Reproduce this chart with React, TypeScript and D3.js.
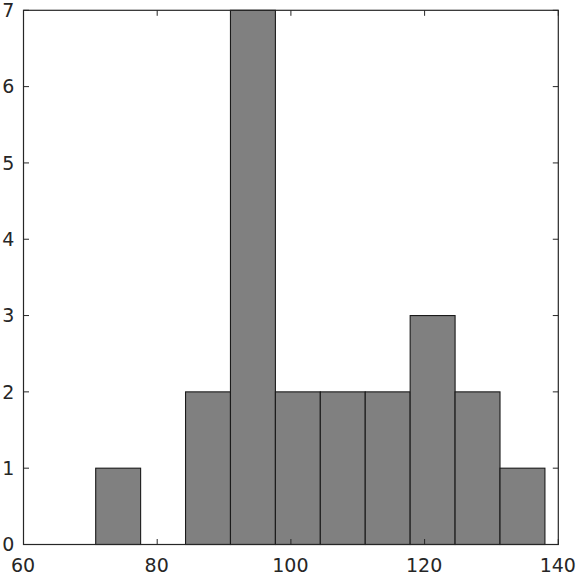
import React from "react";
import * as d3 from "d3";

const binEdges = [70.8, 77.52, 84.24, 90.96, 97.68, 104.4, 111.12, 117.84, 124.56, 131.28, 138.0];
const counts = [1, 0, 2, 7, 2, 2, 2, 3, 2, 1];
const xTicks = [60, 80, 100, 120, 140];
const yTicks = [0, 1, 2, 3, 4, 5, 6, 7];

const W = 579;
const H = 576;
const left = 23.5;
const right = 558.3;
const top = 10.3;
const bottom = 544.5;

export default function App() {
  const x = d3.scaleLinear().domain([60, 140]).range([left, right]);
  const y = d3.scaleLinear().domain([0, 7]).range([bottom, top]);
  const tl = 5.5;
  const axisColor = "#262626";
  const font = "'DejaVu Sans', sans-serif";
  return (
    <svg width={W} height={H} style={{ position: "absolute", left: 0, top: 0, background: "#fff" }}>
      {counts.map((c, i) => (
        <rect
          key={i}
          x={x(binEdges[i])}
          y={y(c)}
          width={x(binEdges[i + 1]) - x(binEdges[i])}
          height={y(0) - y(c)}
          fill="#808080"
          stroke="#1a1a1a"
          strokeWidth={1.1}
        />
      ))}
      <rect x={left} y={top} width={right - left} height={bottom - top} fill="none" stroke={axisColor} strokeWidth={1.2} />
      {xTicks.map((t) => (
        <g key={"x" + t}>
          <line x1={x(t)} x2={x(t)} y1={bottom} y2={bottom - tl} stroke={axisColor} strokeWidth={1} />
          <line x1={x(t)} x2={x(t)} y1={top} y2={top + tl} stroke={axisColor} strokeWidth={1} />
          <text x={x(t) - 0.5} y={571.5} textAnchor="middle" fontFamily={font} fontSize={19} fill={axisColor}>
            {t}
          </text>
        </g>
      ))}
      {yTicks.map((t) => (
        <g key={"y" + t}>
          <line x1={left} x2={left + tl} y1={y(t)} y2={y(t)} stroke={axisColor} strokeWidth={1} />
          <line x1={right} x2={right - tl} y1={y(t)} y2={y(t)} stroke={axisColor} strokeWidth={1} />
          <text x={14.3} y={y(t) + 6.7} textAnchor="end" fontFamily={font} fontSize={19} fill={axisColor}>
            {t}
          </text>
        </g>
      ))}
    </svg>
  );
}
